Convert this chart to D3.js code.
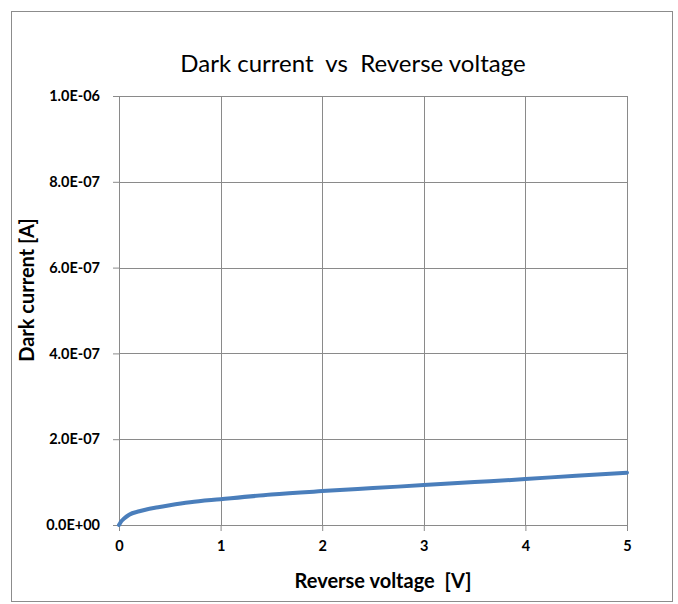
<!DOCTYPE html>
<html>
<head>
<meta charset="utf-8">
<script src="https://cdn.jsdelivr.net/npm/d3@7"></script>
<style>
  body { margin: 0; background: #fff; }
  text { font-family: Lato, "Open Sans", sans-serif; fill: #000; }
</style>
</head>
<body>
<svg width="678" height="604"></svg>
<script>
// reverse voltage [V]
let voltage = [0, 0.02, 0.05, 0.1, 0.2, 0.3, 0.4, 0.5, 0.7, 1.0, 1.5, 2.0, 2.5, 3.0, 3.5, 4.0, 4.5, 5.0];
// dark current [A]
let current = [0, 0.8e-8, 1.5e-8, 2.4e-8, 3.2e-8, 3.8e-8, 4.2e-8, 4.6e-8, 5.3e-8, 6.0e-8, 7.1e-8, 7.9e-8, 8.6e-8, 9.3e-8, 10.0e-8, 10.7e-8, 11.5e-8, 12.2e-8];

let xTicks = [0, 1, 2, 3, 4, 5];
let yTicks = [0, 2e-7, 4e-7, 6e-7, 8e-7, 1e-6];

let pLeft = 119, pRight = 627, pTop = 96, pBottom = 525;

let svg = d3.select("svg");

svg.append("rect")
    .attr("x", 11.5).attr("y", 11.5)
    .attr("width", 661).attr("height", 590)
    .attr("fill", "#fff")
    .attr("stroke", "#8c8c8c");

let xScale = d3.scaleLinear().domain([0, 5]).range([pLeft, pRight]);
let yScale = d3.scaleLinear().domain([0, 1e-6]).range([pBottom, pTop]);

// grid
svg.append("g")
    .selectAll("line")
    .data(xTicks)
    .enter()
    .append("line")
    .attr("x1", (d) => Math.round(xScale(d)) + 0.5).attr("x2", (d) => Math.round(xScale(d)) + 0.5)
    .attr("y1", pTop).attr("y2", pBottom)
    .attr("stroke", "#8a8a8a");

svg.append("g")
    .selectAll("line")
    .data(yTicks)
    .enter()
    .append("line")
    .attr("x1", pLeft).attr("x2", pRight + 1)
    .attr("y1", (d) => Math.round(yScale(d)) + 0.5).attr("y2", (d) => Math.round(yScale(d)) + 0.5)
    .attr("stroke", "#8a8a8a");

let xAxis = d3.axisBottom(xScale)
    .tickValues(xTicks)
    .tickSize(6)
    .tickSizeOuter(0)
    .tickPadding(10)
    .tickFormat(d3.format("d"));
let gx = svg.append("g")
    .attr("transform", "translate(0, " + pBottom + ")")
    .call(xAxis);

let yAxis = d3.axisLeft(yScale)
    .tickValues(yTicks)
    .tickSize(6)
    .tickSizeOuter(0)
    .tickPadding(13)
    .tickFormat((d) => d === 0 ? "0.0E+00" : d.toExponential(1).toUpperCase().replace(/E-(\d)$/, "E-0$1"));
let gy = svg.append("g")
    .attr("transform", "translate(" + pLeft + ", 0)")
    .call(yAxis);

[gx, gy].forEach((g) => {
    g.select(".domain").attr("stroke", "#8a8a8a");
    g.selectAll(".tick line").attr("stroke", "#8a8a8a");
    g.selectAll(".tick text")
        .style("font-family", "Lato, sans-serif")
        .style("font-size", "14.5px")
        .style("font-weight", "bold")
        .attr("fill", "#000");
});

// curve
let pts = voltage.map((v, i) => [v, current[i]]);
svg.append("path")
    .datum(pts)
    .attr("fill", "none")
    .attr("stroke", "#4a7ebb")
    .attr("stroke-width", 4)
    .attr("stroke-linecap", "round")
    .attr("d", d3.line()
        .x((d) => xScale(d[0]))
        .y((d) => yScale(d[1]))
        .curve(d3.curveMonotoneX));

// titles
svg.append("text")
    .attr("x", 353).attr("y", 72)
    .attr("text-anchor", "middle")
    .style("font-size", "24px")
    .style("white-space", "pre")
    .text("Dark current  vs  Reverse voltage");

svg.append("text")
    .attr("x", 383).attr("y", 588)
    .attr("text-anchor", "middle")
    .style("font-size", "20px")
    .style("font-weight", "bold")
    .style("white-space", "pre")
    .text("Reverse voltage  [V]");

svg.append("text")
    .attr("transform", "translate(34, 290) rotate(-90)")
    .attr("text-anchor", "middle")
    .style("font-size", "20px")
    .style("font-weight", "bold")
    .text("Dark current [A]");
</script>
</body>
</html>
